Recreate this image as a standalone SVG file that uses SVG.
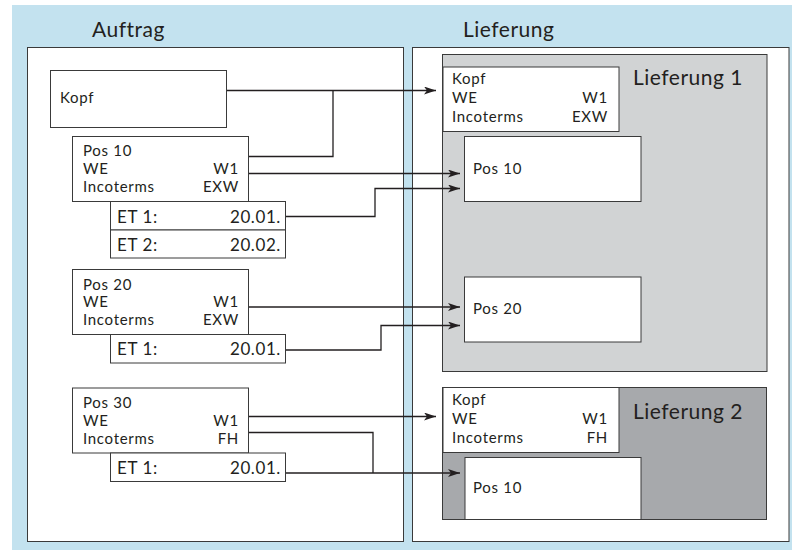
<svg xmlns="http://www.w3.org/2000/svg" width="792" height="550" viewBox="0 0 792 550">
<defs>
<style>
text{font-family:Lato,"Open Sans",sans-serif;fill:#231f20}
.t{font-size:15px;letter-spacing:0.7px}
.e{font-size:17px;letter-spacing:0.6px}
.h{font-size:21px;letter-spacing:0.5px}
.r{text-anchor:end}
.box{fill:#fff;stroke:#3a3a3a;stroke-width:1}
.c{fill:none;stroke:#231f20;stroke-width:1.3}
</style>
<marker id="ah" viewBox="0 0 12 8" refX="12" refY="4" markerWidth="12" markerHeight="8" markerUnits="userSpaceOnUse" orient="auto">
<path d="M0,0 L12,4 L0,8 L3,4 Z" fill="#231f20"/>
</marker>
</defs>
<rect x="12" y="5" width="780" height="545" fill="#c3e2ef"/>
<rect x="27.5" y="47.5" width="376" height="494" fill="#fff" stroke="#3a3a3a"/>
<rect x="412.5" y="47.5" width="376.5" height="494" fill="#fff" stroke="#3a3a3a"/>
<text class="h" x="92" y="37">Auftrag</text>
<text class="h" x="463" y="37">Lieferung</text>

<g id="lieferung1">
<rect x="442.5" y="54.5" width="324.5" height="317" fill="#d1d3d4" stroke="#3a3a3a"/>
<text class="h" x="633" y="85">Lieferung 1</text>
</g>
<g id="lieferung2">
<rect x="442.5" y="387.5" width="324" height="132" fill="#a7a9ac" stroke="#3a3a3a"/>
<text class="h" x="633" y="419">Lieferung 2</text>
</g>

<g id="a-kopf">
<rect class="box" x="50.5" y="70.5" width="176" height="57"/>
<text class="t" x="60" y="103">Kopf</text>
</g>
<g id="a-pos10">
<rect class="box" x="72.5" y="136.5" width="176" height="65"/>
<text class="t" x="83" y="156">Pos 10</text>
<text class="t" x="83" y="174">WE</text>
<text class="t r" x="239" y="174">W1</text>
<text class="t" x="83" y="192">Incoterms</text>
<text class="t r" x="239" y="192">EXW</text>
</g>
<g id="a-pos10-et1">
<rect class="box" x="110.5" y="201.5" width="175" height="28.5"/>
<text class="e" x="117" y="223">ET 1:</text>
<text class="e r" x="281" y="223">20.01.</text>
</g>
<g id="a-pos10-et2">
<rect class="box" x="110.5" y="230" width="175" height="28"/>
<text class="e" x="117" y="251">ET 2:</text>
<text class="e r" x="281" y="251">20.02.</text>
</g>
<g id="a-pos20">
<rect class="box" x="72.5" y="269.5" width="176" height="65"/>
<text class="t" x="83" y="290">Pos 20</text>
<text class="t" x="83" y="307">WE</text>
<text class="t r" x="239" y="307">W1</text>
<text class="t" x="83" y="325">Incoterms</text>
<text class="t r" x="239" y="325">EXW</text>
</g>
<g id="a-pos20-et1">
<rect class="box" x="110.5" y="334.5" width="175" height="28.5"/>
<text class="e" x="117" y="355">ET 1:</text>
<text class="e r" x="281" y="355">20.01.</text>
</g>
<g id="a-pos30">
<rect class="box" x="72.5" y="388" width="176" height="65"/>
<text class="t" x="83" y="408">Pos 30</text>
<text class="t" x="83" y="426">WE</text>
<text class="t r" x="239" y="426">W1</text>
<text class="t" x="83" y="444">Incoterms</text>
<text class="t r" x="239" y="444">FH</text>
</g>
<g id="a-pos30-et1">
<rect class="box" x="110.5" y="453" width="175" height="28.5"/>
<text class="e" x="117" y="474">ET 1:</text>
<text class="e r" x="281" y="474">20.01.</text>
</g>

<g id="l1-kopf">
<rect class="box" x="443" y="67" width="176" height="64.5"/>
<text class="t" x="452" y="84">Kopf</text>
<text class="t" x="452" y="103">WE</text>
<text class="t r" x="608" y="103">W1</text>
<text class="t" x="452" y="122">Incoterms</text>
<text class="t r" x="608" y="122">EXW</text>
</g>
<g id="l1-pos10">
<rect class="box" x="464.5" y="136.5" width="176.5" height="65"/>
<text class="t" x="473" y="174">Pos 10</text>
</g>
<g id="l1-pos20">
<rect class="box" x="464.5" y="277" width="176.5" height="65"/>
<text class="t" x="473" y="314">Pos 20</text>
</g>
<g id="l2-kopf">
<rect class="box" x="443" y="387.5" width="176" height="65"/>
<text class="t" x="452" y="405">Kopf</text>
<text class="t" x="452" y="424">WE</text>
<text class="t r" x="608" y="424">W1</text>
<text class="t" x="452" y="443">Incoterms</text>
<text class="t r" x="608" y="443">FH</text>
</g>
<g id="l2-pos10">
<rect class="box" x="465" y="457.5" width="176" height="62"/>
<text class="t" x="473" y="493">Pos 10</text>
</g>

<g id="connectors">
<path class="c" d="M227,90.5 H436" marker-end="url(#ah)"/>
<path class="c" d="M249,156.5 H333 V90.5"/>
<path class="c" d="M249,173.5 H460" marker-end="url(#ah)"/>
<path class="c" d="M286,216.5 H375 V188.5 H460" marker-end="url(#ah)"/>
<path class="c" d="M249,307 H460" marker-end="url(#ah)"/>
<path class="c" d="M286,350 H381 V325.5 H460" marker-end="url(#ah)"/>
<path class="c" d="M249,416.5 H436" marker-end="url(#ah)"/>
<path class="c" d="M249,432.5 H373 V473"/>
<path class="c" d="M286,473 H460" marker-end="url(#ah)"/>
</g>
</svg>
